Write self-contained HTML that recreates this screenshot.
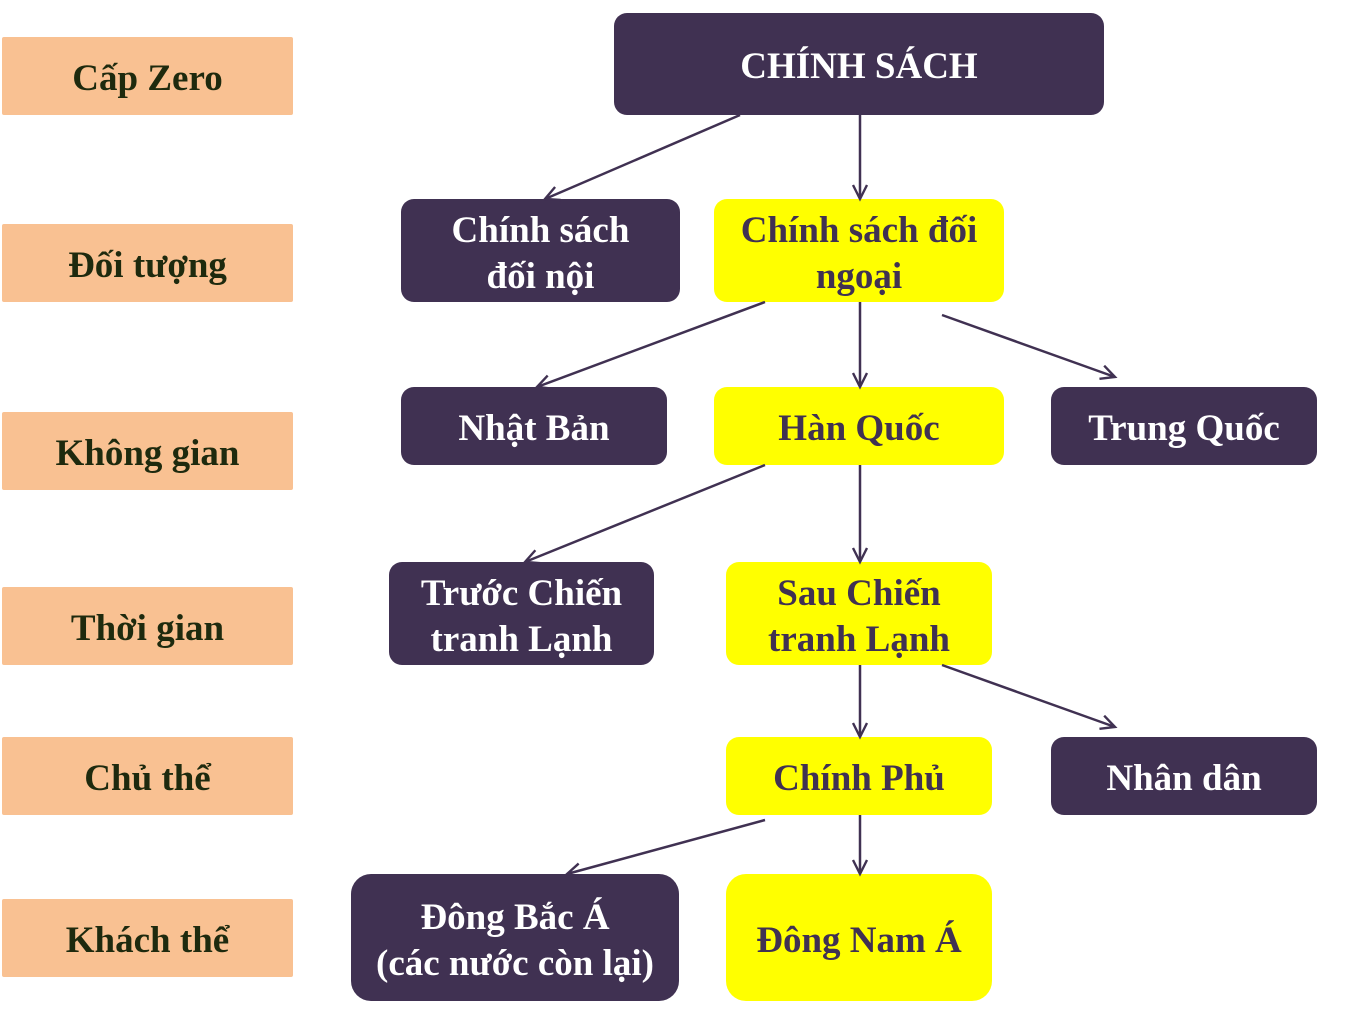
<!DOCTYPE html>
<html><head><meta charset="utf-8"><style>
body{margin:0;width:1354px;height:1027px;background:#fff;position:relative;overflow:hidden;font-family:"Liberation Serif",serif;font-weight:bold;}
.b{position:absolute;display:flex;align-items:center;justify-content:center;text-align:center;box-sizing:border-box;font-size:37px;line-height:46px;padding-top:6px;}
.l{background:#F9C192;color:#1e2a0e;border-radius:2px;}
.d{background:#403152;color:#fff;border-radius:13px;}
.y{background:#FFFF00;color:#403152;border-radius:13px;}
svg{position:absolute;left:0;top:0;}
</style></head><body>
<div class="b l" style="left:2px;top:37px;width:291px;height:78px">Cấp Zero</div>
<div class="b l" style="left:2px;top:224px;width:291px;height:78px">Đối tượng</div>
<div class="b l" style="left:2px;top:412px;width:291px;height:78px">Không gian</div>
<div class="b l" style="left:2px;top:587px;width:291px;height:78px">Thời gian</div>
<div class="b l" style="left:2px;top:737px;width:291px;height:78px">Chủ thể</div>
<div class="b l" style="left:2px;top:899px;width:291px;height:78px">Khách thể</div>

<div class="b d" style="left:614px;top:13px;width:490px;height:102px">CHÍNH SÁCH</div>
<div class="b d" style="left:401px;top:199px;width:279px;height:103px">Chính sách<br>đối nội</div>
<div class="b y" style="left:714px;top:199px;width:290px;height:103px">Chính sách đối<br>ngoại</div>
<div class="b d" style="left:401px;top:387px;width:266px;height:78px">Nhật Bản</div>
<div class="b y" style="left:714px;top:387px;width:290px;height:78px">Hàn Quốc</div>
<div class="b d" style="left:1051px;top:387px;width:266px;height:78px">Trung Quốc</div>
<div class="b d" style="left:389px;top:562px;width:265px;height:103px">Trước Chiến<br>tranh Lạnh</div>
<div class="b y" style="left:726px;top:562px;width:266px;height:103px">Sau Chiến<br>tranh Lạnh</div>
<div class="b y" style="left:726px;top:737px;width:266px;height:78px">Chính Phủ</div>
<div class="b d" style="left:1051px;top:737px;width:266px;height:78px">Nhân dân</div>
<div class="b d" style="left:351px;top:874px;width:328px;height:127px;border-radius:20px">Đông Bắc Á<br>(các nước còn lại)</div>
<div class="b y" style="left:726px;top:874px;width:266px;height:127px;border-radius:20px">Đông Nam Á</div>

<svg width="1354" height="1027">
<defs><marker id="a" markerWidth="18" markerHeight="18" refX="15" refY="9" orient="auto" markerUnits="userSpaceOnUse"><path d="M1,2 L15,9 L1,16" fill="none" stroke="#403152" stroke-width="2.4"/></marker></defs>
<g stroke="#403152" stroke-width="2.5" fill="none" marker-end="url(#a)">
<line x1="740" y1="115" x2="545" y2="199"/>
<line x1="860" y1="115" x2="860" y2="199"/>
<line x1="765" y1="302" x2="537" y2="387"/>
<line x1="860" y1="302" x2="860" y2="387"/>
<line x1="942" y1="315" x2="1115" y2="377"/>
<line x1="765" y1="465" x2="525" y2="562"/>
<line x1="860" y1="465" x2="860" y2="562"/>
<line x1="860" y1="665" x2="860" y2="737"/>
<line x1="942" y1="665" x2="1115" y2="727"/>
<line x1="765" y1="820" x2="567" y2="874"/>
<line x1="860" y1="815" x2="860" y2="874"/>
</g></svg>
</body></html>
